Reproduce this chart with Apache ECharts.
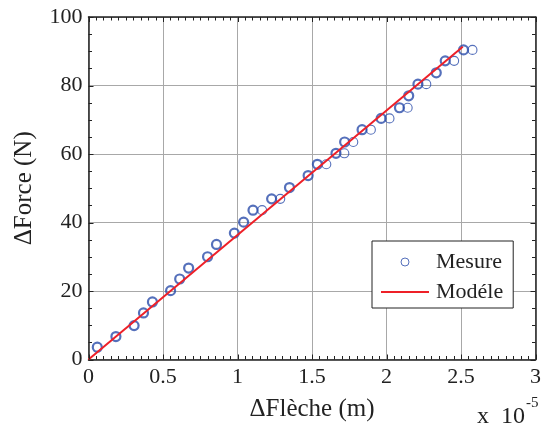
<!DOCTYPE html>
<html>
<head>
<meta charset="utf-8">
<script src="https://cdn.jsdelivr.net/npm/echarts@6/dist/echarts.min.js"></script>
<style>
html,body{margin:0;padding:0;background:#fff;}
#chart{width:544px;height:430px;}
</style>
</head>
<body>
<div id="chart"></div>
<script>
// Values in units of 1e-5 m (x) and N (y)
const mesureX = [0.059,0.184,0.306,0.369,0.429,0.551,0.612,0.672,0.799,0.859,0.979,1.041,1.104,1.229,1.349,1.474,1.536,1.661,1.719,1.836,1.964,2.087,2.149,2.211,2.334,2.394,2.517];
const mesureY = [3.6,6.7,9.9,13.6,16.8,20.1,23.5,26.7,30.0,33.6,36.9,40.1,43.6,46.9,50.2,53.7,57.0,60.2,63.5,67.1,70.4,73.5,77.0,80.4,83.7,87.2,90.4];
const mesureX2 = [1.165,1.287,1.596,1.717,1.777,1.895,2.020,2.142,2.267,2.454,2.577];
const mesureY2 = [43.6,46.9,57.0,60.2,63.5,67.1,70.4,73.5,80.4,87.2,90.4];
const modeleX = [0, 2.512];
const modeleY = [0, 91.3];
const xTicks = [0,0.5,1,1.5,2,2.5,3];
const yTicks = [0,20,40,60,80,100];
const xMinorPerMajor = 10;
const yMinorPerMajor = 4;

const FONT = 'Liberation Serif';
const BLUE = '#2a4caa';
const RED = '#ee2028';
const zip = (a,b) => a.map((v,i)=>[v,b[i]]);
const XMIN = xTicks[0], XMAX = xTicks[xTicks.length-1];
const YMIN = yTicks[0], YMAX = yTicks[yTicks.length-1];

function subdivide(ticks, n){
  const out = [];
  for (let i = 0; i < ticks.length - 1; i++){
    for (let k = 0; k < n; k++) out.push([ticks[i] + (ticks[i+1]-ticks[i]) * k / n, k === 0]);
  }
  out.push([ticks[ticks.length-1], true]);
  return out;
}

const chart = echarts.init(document.getElementById('chart'));

const axisLine = {show:true, onZero:false, lineStyle:{color:'#222', width:1.5}};
const label = {fontFamily:FONT, fontSize:22, color:'#222'};
const noTick = {show:false};

chart.setOption({
  animation:false,
  backgroundColor:'#fff',
  grid:{left:88.5, right:7, top:17, bottom:70.5, containLabel:false},
  legend:{
    orient:'vertical',
    left:372, top:241, width:140,
    padding:[10,10,5,9],
    itemGap:8,
    itemWidth:48, itemHeight:8,
    backgroundColor:'#fff',
    borderColor:'#222', borderWidth:1,
    textStyle:{fontFamily:FONT, fontSize:22, color:'#222', padding:[0,0,0,2]},
    data:[
      {name:'Mesure', icon:'circle', itemStyle:{color:'rgba(0,0,0,0)', borderColor:BLUE, borderWidth:1}},
      {name:'Modéle', icon:'path://M0,0 L48,0 L48,2 L0,2 Z', itemStyle:{color:RED, borderWidth:0}}
    ]
  },
  xAxis:[
    {type:'value', position:'bottom', min:XMIN, max:XMAX, interval:0.5,
     axisLine:axisLine, axisTick:noTick, minorTick:noTick,
     splitLine:{show:true, lineStyle:{color:'#a8a8a8', width:1}},
     axisLabel:Object.assign({margin:7, formatter:(v)=>String(v)}, label),
     name:'ΔFlèche (m)', nameLocation:'middle', nameGap:37,
     nameTextStyle:{fontFamily:FONT, fontSize:25, color:'#222'}},
    {type:'value', position:'top', min:XMIN, max:XMAX, interval:0.5,
     axisLine:axisLine, axisTick:noTick, minorTick:noTick,
     splitLine:{show:false}, axisLabel:{show:false}}
  ],
  yAxis:[
    {type:'value', position:'left', min:YMIN, max:YMAX, interval:20,
     axisLine:axisLine, axisTick:noTick, minorTick:noTick,
     splitLine:{show:true, lineStyle:{color:'#a8a8a8', width:1}},
     axisLabel:Object.assign({margin:6}, label),
     name:'ΔForce (N)', nameLocation:'middle', nameGap:52,
     nameTextStyle:{fontFamily:FONT, fontSize:25, color:'#222'}},
    {type:'value', position:'right', min:YMIN, max:YMAX, interval:20,
     axisLine:axisLine, axisTick:noTick, minorTick:noTick,
     splitLine:{show:false}, axisLabel:{show:false}}
  ],
  series:[
    {name:'Mesure', type:'scatter', xAxisIndex:0, yAxisIndex:0,
     symbol:'circle', symbolSize:9,
     itemStyle:{color:'rgba(0,0,0,0)', borderColor:BLUE, borderWidth:2.2},
     data:zip(mesureX, mesureY), z:3},
    {name:'Mesure', type:'scatter', xAxisIndex:0, yAxisIndex:0,
     symbol:'circle', symbolSize:9,
     itemStyle:{color:'rgba(0,0,0,0)', borderColor:BLUE, borderWidth:1.1},
     data:zip(mesureX2, mesureY2), z:3},
    {name:'Modéle', type:'line', xAxisIndex:0, yAxisIndex:0,
     symbol:'none', lineStyle:{color:RED, width:2}, itemStyle:{color:RED},
     data:zip(modeleX, modeleY), z:4}
  ]
});

// inward tick marks on all four sides, positioned through the chart's own axis scales
const px = (v)=>chart.convertToPixel({xAxisIndex:0}, v);
const py = (v)=>chart.convertToPixel({yAxisIndex:0}, v);
const gx0 = px(XMIN), gx1 = px(XMAX), gy0 = py(YMIN), gy1 = py(YMAX);
const st = {stroke:'#222', lineWidth:1};
const elements = [];
subdivide(xTicks, xMinorPerMajor).forEach(([v, major])=>{
  const L = major ? 5 : 3.5;
  const x = Math.round(px(v)) + 0.5;
  elements.push({type:'line', silent:true, z:100, shape:{x1:x, y1:gy0, x2:x, y2:gy0-L}, style:st});
  elements.push({type:'line', silent:true, z:100, shape:{x1:x, y1:gy1, x2:x, y2:gy1+L}, style:st});
});
subdivide(yTicks, yMinorPerMajor).forEach(([v, major])=>{
  const L = major ? 5 : 3.5;
  const y = Math.round(py(v)) + 0.5;
  elements.push({type:'line', silent:true, z:100, shape:{x1:gx0, y1:y, x2:gx0+L, y2:y}, style:st});
  elements.push({type:'line', silent:true, z:100, shape:{x1:gx1, y1:y, x2:gx1-L, y2:y}, style:st});
});
elements.push({type:'text', left:477, top:405, z:100,
  style:{text:'x  10', fontFamily:FONT, fontSize:24, fill:'#222'}});
elements.push({type:'text', left:526, top:396, z:100,
  style:{text:'-5', fontFamily:FONT, fontSize:15, fill:'#222'}});
chart.setOption({graphic:{elements:elements}});
</script>
</body>
</html>
